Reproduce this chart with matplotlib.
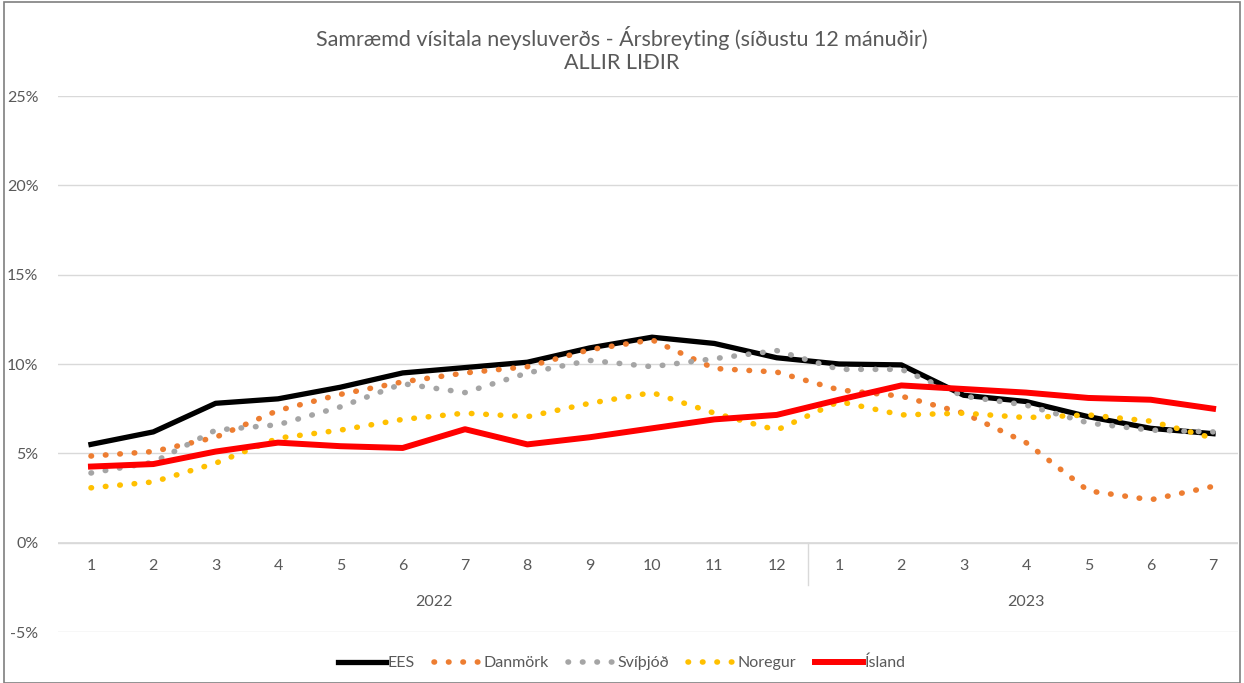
import numpy as np
import matplotlib.pyplot as plt
from matplotlib.patches import Rectangle

plt.rcParams['font.family'] = ['Lato', 'DejaVu Sans']

months = ['1', '2', '3', '4', '5', '6', '7', '8', '9', '10', '11', '12',
          '1', '2', '3', '4', '5', '6', '7']
years = ['2022', '2023']

ees = [5.5, 6.2, 7.8, 8.05, 8.7, 9.5, 9.8, 10.1, 10.9, 11.5, 11.15, 10.35,
       10.0, 9.95, 8.25, 7.9, 7.05, 6.4, 6.1]
danmork = [4.85, 5.1, 5.9, 7.4, 8.3, 9.0, 9.5, 9.85, 10.8, 11.35, 9.75, 9.55,
           8.55, 8.2, 7.25, 5.6, 2.9, 2.4, 3.15]
svithjod = [3.9, 4.5, 6.3, 6.6, 7.6, 8.9, 8.4, 9.5, 10.2, 9.85, 10.3, 10.75,
            9.7, 9.7, 8.2, 7.7, 6.7, 6.3, 6.2]
noregur = [3.07, 3.4, 4.45, 5.85, 6.3, 6.9, 7.25, 7.05, 7.8, 8.4, 7.25, 6.3,
           7.9, 7.15, 7.25, 7.0, 7.15, 6.8, 5.85]
island = [4.26, 4.4, 5.1, 5.6, 5.4, 5.3, 6.35, 5.5, 5.9, 6.4, 6.9, 7.15,
          8.0, 8.8, 8.6, 8.4, 8.1, 8.0, 7.5]

x = np.arange(len(months))
grey = '#595959'
grid = '#D9D9D9'
dots = (0, (0.1, 2.5))

fig = plt.figure(figsize=(12.44, 6.83), dpi=100)
ax = fig.add_axes([58 / 1244, 1 - 632 / 683, 1180 / 1244, 536 / 683])

ax.plot(x, ees, color='black', lw=3.8, solid_joinstyle='round', label='EES', zorder=3)
ax.plot(x, danmork, color='#ED7D31', lw=4, linestyle=dots, dash_capstyle='round',
        label='Danmörk', zorder=4)
ax.plot(x, svithjod, color='#A5A5A5', lw=4, linestyle=dots, dash_capstyle='round',
        label='Svíþjóð', zorder=4)
ax.plot(x, noregur, color='#FFC000', lw=4, linestyle=dots, dash_capstyle='round',
        label='Noregur', zorder=4)
ax.plot(x, island, color='#FF0000', lw=4.3, solid_joinstyle='round', label='Ísland', zorder=5)

ax.set_xlim(-0.529, 18.40)
ax.set_ylim(-5, 25)
ax.set_yticks(np.arange(-5, 26, 5))
ax.set_yticklabels([f'{v}%' for v in range(-5, 26, 5)], color=grey, fontsize=11.5)
ax.yaxis.grid(True, color=grid, lw=1)
ax.axhline(0, color=grid, lw=1.2, zorder=1)
ax.set_xticks([])
ax.tick_params(axis='y', length=0, pad=14)
for s in ax.spines.values():
    s.set_visible(False)

# category labels under the zero line
tr = ax.get_xaxis_transform()
for i, m in enumerate(months):
    ax.text(i, 0.123, m, transform=tr, ha='center', va='center', color=grey, fontsize=11.5)
ax.text(5.5, 0.056, years[0], transform=tr, ha='center', va='center', color=grey, fontsize=11.5)
ax.text(15, 0.056, years[1], transform=tr, ha='center', va='center', color=grey, fontsize=11.5)
ax.plot([11.5, 11.5], [1 / 6, 0.0877], transform=tr, color=grid, lw=1, clip_on=False)

fig.text(0.5, 1 - 38 / 683, 'Samræmd vísitala neysluverðs - Ársbreyting (síðustu 12 mánuðir)',
         ha='center', va='center', color=grey, fontsize=15.5)
fig.text(0.5, 1 - 63 / 683, 'ALLIR LIÐIR', ha='center', va='center', color=grey, fontsize=15.5)

leg = fig.legend(*ax.get_legend_handles_labels(), loc='center', bbox_to_anchor=(0.5, 1 - 663 / 683),
                 ncol=5, frameon=False, fontsize=11.5, handlelength=3.0, handletextpad=0.1,
                 columnspacing=1.2)
for t in leg.get_texts():
    t.set_color(grey)

fig.patches.append(Rectangle((4 / 1244, 0), 1236 / 1244, 1 - 2 / 683, transform=fig.transFigure,
                             fill=False, edgecolor='#7F7F7F', lw=1.2))

fig.savefig('out.png', dpi=100)
